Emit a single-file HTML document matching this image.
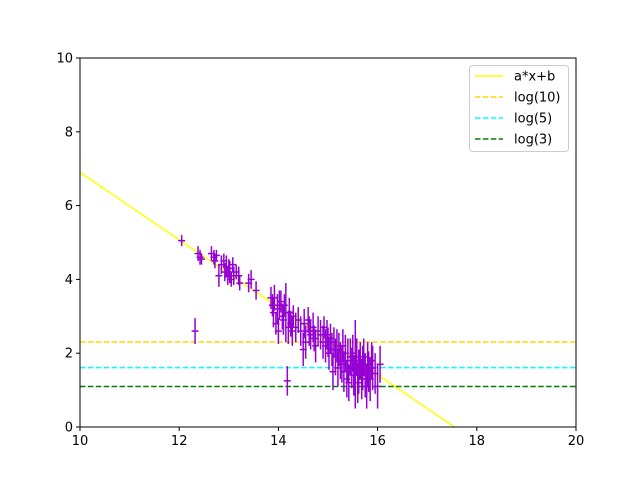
<!DOCTYPE html>
<html><head><meta charset="utf-8">
<style>
html,body{margin:0;padding:0;background:#fff;width:640px;height:480px;overflow:hidden;}
svg{display:block;font-family:"DejaVu Sans","Liberation Sans",sans-serif;}
</style></head>
<body>
<svg id="chart" width="640" height="480" viewBox="0 0 640 480">
<rect x="0" y="0" width="640" height="480" fill="#fff"/>
<g id="plot"></g>
</svg>
<script>
const xTicks = [10, 12, 14, 16, 18, 20];
const yTicks = [0, 2, 4, 6, 8, 10];
const fitA = -0.914;
const fitB = 16.04;
const hLineValues = [2.303, 1.609, 1.099];
const hLineNames = ["log(10)", "log(5)", "log(3)"];
const hLineColors = ["#ffd700", "#00ffff", "#008000"];
const ptX = [12.05,12.32,12.38,12.42,12.45,12.65,12.7,12.72,12.75,12.8,12.85,12.9,12.92,12.95,12.98,13.0,13.02,13.05,13.08,13.1,13.15,13.2,13.22,13.4,13.45,13.55,13.85,13.88,13.9,13.92,13.95,13.98,14.0,14.02,14.05,14.08,14.1,14.12,14.15,14.18,14.2,14.22,14.25,14.28,14.3,14.35,14.4,14.45,14.5,14.52,14.55,14.6,14.62,14.65,14.7,14.72,14.75,14.8,14.85,14.9,14.92,14.95,14.98,15.0,15.02,15.05,15.08,15.1,15.12,15.15,15.18,15.2,15.22,15.25,15.28,15.3,15.32,15.35,15.38,15.4,15.42,15.45,15.48,15.5,15.52,15.55,15.58,15.6,15.62,15.65,15.68,15.7,15.72,15.75,15.78,15.8,15.82,15.85,15.88,15.9,15.95,16.0,16.05];
const ptY = [5.05,2.6,4.7,4.6,4.55,4.7,4.6,4.5,4.65,4.1,4.4,4.5,4.2,4.35,4.1,4.3,4.2,4.0,4.4,4.1,4.2,4.1,3.9,3.9,4.0,3.7,3.5,3.3,3.1,3.5,2.8,3.2,2.6,3.3,3.4,3.0,2.9,3.3,3.1,1.25,2.7,3.1,2.8,2.6,3.0,2.7,2.9,2.6,2.1,2.8,2.3,2.9,2.6,2.5,2.7,2.4,2.2,2.6,2.5,2.3,2.7,2.2,2.5,2.3,2.0,2.4,2.1,1.5,2.3,1.9,2.2,1.6,2.1,1.8,1.7,2.2,1.5,2.0,1.3,1.8,1.2,1.9,1.6,2.0,1.4,1.7,1.9,1.2,1.5,1.8,1.3,1.6,1.9,1.4,1.1,1.7,1.5,1.3,1.8,1.6,1.45,1.1,1.7];
const ptErr = [0.15,0.35,0.2,0.2,0.15,0.2,0.2,0.2,0.15,0.3,0.25,0.2,0.25,0.3,0.25,0.25,0.3,0.2,0.2,0.25,0.2,0.25,0.2,0.25,0.25,0.25,0.3,0.3,0.4,0.35,0.3,0.4,0.35,0.4,0.3,0.35,0.4,0.3,0.8,0.4,0.45,0.4,0.35,0.4,0.3,0.4,0.35,0.4,0.45,0.4,0.45,0.35,0.4,0.4,0.4,0.35,0.45,0.4,0.4,0.45,0.3,0.45,0.4,0.4,0.45,0.4,0.45,0.5,0.4,0.5,0.45,0.5,0.45,0.5,0.5,0.45,0.55,0.5,0.5,0.6,0.5,0.5,0.55,0.5,0.55,1.2,0.5,0.55,0.6,0.5,0.55,0.6,0.5,0.6,0.6,0.6,0.55,0.6,0.5,0.6,0.55,0.6,0.5];

const L = 80, R = 576, T = 58, B = 427;
const X = v => L + (v - 10) / 10 * (R - L);
const Y = v => B - v / 10 * (B - T);
const NS = "http://www.w3.org/2000/svg";
const plot = document.getElementById("plot");
function mk(tag, attrs, parent) {
  const e = document.createElementNS(NS, tag);
  for (const k in attrs) e.setAttribute(k, attrs[k]);
  (parent || plot).appendChild(e);
  return e;
}
const clip = mk("clipPath", {id: "clip"});
mk("rect", {x: L, y: T, width: R - L, height: B - T}, clip);
const inner = mk("g", {"clip-path": "url(#clip)"});



const fl = mk("line", {x1: X(10), y1: Y(fitA * 10 + fitB), x2: X(20), y2: Y(fitA * 20 + fitB), stroke: "#ffff00", "stroke-width": 1.5}, inner);



hLineValues.forEach((v, i) => {
  const l = mk("line", {x1: L, y1: Y(v), x2: R, y2: Y(v), stroke: hLineColors[i], "stroke-width": 1.5, "stroke-dasharray": "5.5,2.4"}, inner);
  
  
});

ptX.forEach((x, i) => {
  const g = mk("g", {stroke: "#9400d3", "stroke-width": 1.5}, inner);
  
  
  mk("line", {x1: X(x), y1: Y(ptY[i] - ptErr[i]), x2: X(x), y2: Y(ptY[i] + ptErr[i])}, g);
  mk("line", {x1: X(x - 0.07), y1: Y(ptY[i]), x2: X(x + 0.07), y2: Y(ptY[i])}, g);
});

const fr = mk("rect", {x: L, y: T, width: R - L, height: B - T, fill: "none", stroke: "#000", "stroke-width": 1});



xTicks.forEach(t => {
  const tk = mk("line", {x1: X(t), y1: B, x2: X(t), y2: B + 4, stroke: "#000"});
  
  
  const tx = mk("text", {x: X(t), y: B + 18, "text-anchor": "middle", "font-size": 13});
  tx.textContent = t;
  
  
});
yTicks.forEach(t => {
  const tk = mk("line", {x1: L - 4, y1: Y(t), x2: L, y2: Y(t), stroke: "#000"});
  
  
  const tx = mk("text", {x: L - 7, y: Y(t) + 4.5, "text-anchor": "end", "font-size": 13});
  tx.textContent = t;
  
  
});

const lg = mk("g", {});


mk("rect", {x: 469.5, y: 65.5, width: 99, height: 86, rx: 3, fill: "#fff", stroke: "#ccc"}, lg);
const legNames = ["a*x+b"].concat(hLineNames);
const legColors = ["#ffff00"].concat(hLineColors);
legNames.forEach((n, i) => {
  const yy = 76 + i * 21;
  const e = mk("g", {}, lg);
  
  
  const ln = {x1: 475, y1: yy, x2: 503, y2: yy, stroke: legColors[i], "stroke-width": 1.5};
  if (i > 0) ln["stroke-dasharray"] = "5.5,2.4";
  mk("line", ln, e);
  const t = mk("text", {x: 514, y: yy + 4.5, "font-size": 13}, e);
  t.textContent = n;
});
</script>
</body></html>
